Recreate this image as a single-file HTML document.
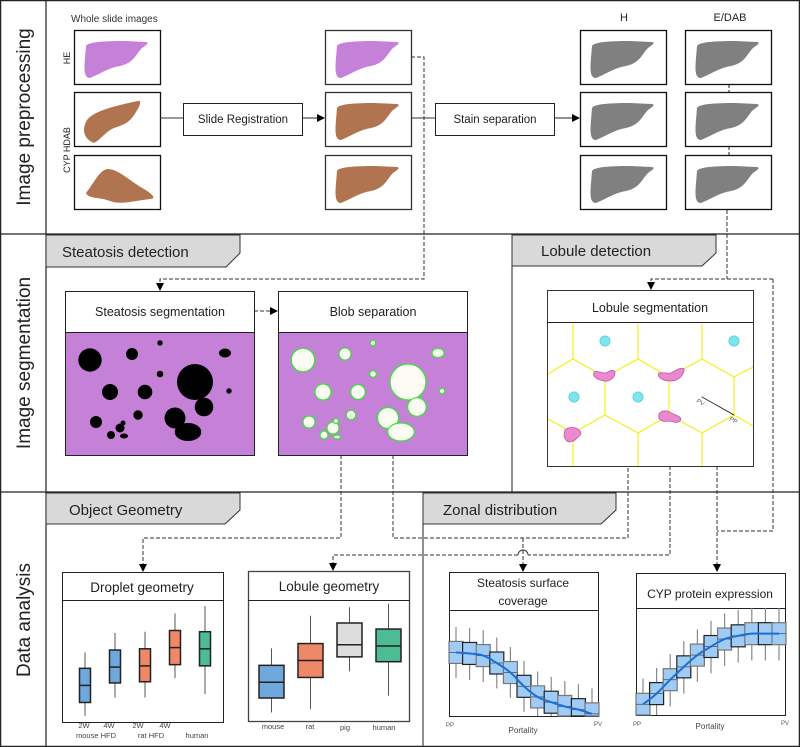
<!DOCTYPE html>
<html><head><meta charset="utf-8"><style>
html,body{margin:0;padding:0;background:#fff;}
svg{display:block;font-family:"Liberation Sans",sans-serif;}
.t{fill:#222;}
</style></head><body>
<svg id="fig" width="800" height="747" viewBox="0 0 800 747" xmlns="http://www.w3.org/2000/svg">
<defs>
<marker id="ah" markerWidth="8" markerHeight="8" refX="7" refY="4" orient="auto" markerUnits="userSpaceOnUse"><path d="M0,0 L8,4 L0,8 Z" fill="#000"/></marker>
<path id="liverA" d="M12,16 C14,12 30,11 50,11 L72,12 C76,13 72,15 68,18 C62,24 60,33 46,36 C34,38 26,44 16,48 C10,48 10,40 11,28 Z"/>
<path id="liverB" d="M12,30 C16,20 40,14 64,9 C68,8 66,14 62,20 C56,30 52,32 40,36 C30,40 22,54 18,50 C10,46 8,38 12,30Z"/>
<path id="liverC" d="M12,38 C20,28 26,14 34,14 C44,14 56,26 70,34 C80,40 82,44 76,44 C60,46 46,50 36,46 C26,42 14,44 12,38Z"/>
</defs>
<!-- frame -->
<rect x="0.5" y="0.5" width="799" height="746" fill="none" stroke="#222" stroke-width="1.5"/>
<line x1="46" y1="0" x2="46" y2="747" stroke="#222" stroke-width="1.2"/>
<line x1="0" y1="234" x2="800" y2="234" stroke="#222" stroke-width="1.2"/>
<line x1="0" y1="492" x2="800" y2="492" stroke="#222" stroke-width="1.2"/>
<line x1="512" y1="234" x2="512" y2="492" stroke="#222" stroke-width="1"/>
<line x1="423" y1="492" x2="423" y2="747" stroke="#222" stroke-width="1"/>
<text class="t" transform="translate(30,117) rotate(-90)" text-anchor="middle" font-size="19">Image preprocessing</text>
<text class="t" transform="translate(30,363) rotate(-90)" text-anchor="middle" font-size="19">Image segmentation</text>
<text class="t" transform="translate(30,620) rotate(-90)" text-anchor="middle" font-size="19">Data analysis</text>

<!-- preprocessing -->
<text x="71" y="22" font-size="10" fill="#333">Whole slide images</text>
<text transform="translate(70,58) rotate(-90)" text-anchor="middle" font-size="9" fill="#222">HE</text>
<text transform="translate(70,150) rotate(-90)" text-anchor="middle" font-size="9" fill="#222">CYP HDAB</text>
<g>
<rect x="74.5" y="30.5" width="86" height="54" fill="#fff" stroke="#111" stroke-width="1.3"/><use href="#liverA" x="74" y="30" fill="#c580d8"/>
<rect x="74.5" y="92.5" width="86" height="54" fill="#fff" stroke="#111" stroke-width="1.3"/><use href="#liverB" x="74" y="92" fill="#b07550"/>
<rect x="74.5" y="155.5" width="86" height="54" fill="#fff" stroke="#111" stroke-width="1.3"/><use href="#liverC" x="74" y="155" fill="#b07550"/>
</g>
<g>
<rect x="325.5" y="30.5" width="86" height="54" fill="#fff" stroke="#333" stroke-width="1.3"/><use href="#liverA" x="325" y="30" fill="#c580d8"/>
<rect x="325.5" y="92.5" width="86" height="54" fill="#fff" stroke="#333" stroke-width="1.3"/><use href="#liverA" x="325" y="92" fill="#b07550"/>
<rect x="325.5" y="155.5" width="86" height="54" fill="#fff" stroke="#333" stroke-width="1.3"/><use href="#liverA" x="325" y="155" fill="#b07550"/>
</g>
<line x1="160" y1="118" x2="183" y2="118" stroke="#333"/>
<rect x="183.5" y="103.5" width="119" height="32" fill="#fff" stroke="#222"/>
<text x="243" y="123" text-anchor="middle" font-size="11.5" class="t">Slide Registration</text>
<line x1="302" y1="118" x2="324" y2="118" stroke="#222" marker-end="url(#ah)"/>
<line x1="411" y1="118" x2="435" y2="118" stroke="#333"/>
<rect x="435.5" y="103.5" width="119" height="32" fill="#fff" stroke="#222"/>
<text x="495" y="123" text-anchor="middle" font-size="11.5" class="t">Stain separation</text>
<line x1="554" y1="118" x2="579" y2="118" stroke="#222" marker-end="url(#ah)"/>
<text x="624" y="21" text-anchor="middle" font-size="11" class="t">H</text>
<text x="730" y="21" text-anchor="middle" font-size="11" class="t">E/DAB</text>
<g>
<rect x="580.5" y="30.5" width="86" height="54" fill="#fff" stroke="#111" stroke-width="1.3"/><use href="#liverA" x="580" y="30" fill="#808080"/>
<rect x="580.5" y="92.5" width="86" height="54" fill="#fff" stroke="#111" stroke-width="1.3"/><use href="#liverA" x="580" y="92" fill="#808080"/>
<rect x="580.5" y="155.5" width="86" height="54" fill="#fff" stroke="#111" stroke-width="1.3"/><use href="#liverA" x="580" y="155" fill="#808080"/>
<rect x="685.5" y="30.5" width="86" height="54" fill="#fff" stroke="#111" stroke-width="1.3"/><use href="#liverA" x="685" y="30" fill="#808080"/>
<rect x="685.5" y="92.5" width="86" height="54" fill="#fff" stroke="#111" stroke-width="1.3"/><use href="#liverA" x="685" y="92" fill="#808080"/>
<rect x="685.5" y="155.5" width="86" height="54" fill="#fff" stroke="#111" stroke-width="1.3"/><use href="#liverA" x="685" y="155" fill="#808080"/>
</g>
<line x1="729" y1="85" x2="729" y2="92" stroke="#222" stroke-dasharray="3,2"/>
<line x1="729" y1="147" x2="729" y2="155" stroke="#222" stroke-dasharray="3,2"/>

<!-- dashed connectors -->
<g fill="none" stroke="#333" stroke-width="1" stroke-dasharray="4,2">
<polyline points="411,57 424,57 424,279 160,279 160,290" marker-end="url(#ah)"/>
<polyline points="254,311 277,311" marker-end="url(#ah)"/>
<polyline points="727,210 727,279"/>
<polyline points="773,279 651,279 651,289" marker-end="url(#ah)"/>
<polyline points="773,279 773,531 717,531"/>
<polyline points="717,466 717,571" marker-end="url(#ah)"/>
<polyline points="341,455 341,538 143,538 143,571" marker-end="url(#ah)"/>
<polyline points="393,455 393,538 628,538 628,466"/>
<polyline points="523,538 523,571" marker-end="url(#ah)"/>
<path d="M670,466 V555 H528 M518,555 H333 V570" marker-end="url(#ah)"/>
<path d="M528,555 A5,5 0 0 0 518,555" stroke-dasharray="none"/>
</g>

<!-- tabs -->
<g><polygon points="46,235 240,235 240,253 226,267 46,267" fill="#d9d9d9" stroke="#333"/><text x="62" y="257" font-size="15" class="t">Steatosis detection</text></g>
<g><polygon points="512,235 716,235 716,253 702,266 512,266" fill="#d9d9d9" stroke="#333"/><text x="541" y="256" font-size="15" class="t">Lobule detection</text></g>
<g><polygon points="46,493 240,493 240,510 225,524 46,524" fill="#d9d9d9" stroke="#333"/><text x="69" y="515" font-size="15" class="t">Object Geometry</text></g>
<g><polygon points="423,493 616,493 616,510 601,524 423,524" fill="#d9d9d9" stroke="#333"/><text x="443" y="515" font-size="15" class="t">Zonal distribution</text></g>

<!-- steatosis segmentation -->
<g>
<rect x="65.5" y="291.5" width="189" height="164" fill="#fff" stroke="#222"/>
<rect x="65.5" y="332.5" width="189" height="123" fill="#c580d8" stroke="#222"/>
<text x="160" y="316" text-anchor="middle" font-size="12.5" class="t">Steatosis segmentation</text>
<g id="blobs" fill="#000">
<circle cx="90" cy="360" r="11.7"/><circle cx="132" cy="354" r="6"/><circle cx="160" cy="343" r="2.7"/><ellipse cx="225" cy="353" rx="6" ry="4.5"/>
<circle cx="160" cy="374" r="3.3"/><circle cx="195" cy="382" r="18"/><circle cx="110" cy="392" r="8"/><circle cx="145" cy="392" r="7.3"/>
<circle cx="229" cy="391" r="2.7"/><circle cx="204" cy="407" r="9.3"/><circle cx="96" cy="422" r="6"/><circle cx="138" cy="415" r="4.7"/>
<circle cx="175" cy="418" r="10.5"/><ellipse cx="188" cy="432" rx="13.3" ry="9"/><circle cx="120" cy="428" r="4.5"/><circle cx="111" cy="435" r="4"/><circle cx="123" cy="423" r="2.5"/><ellipse cx="124" cy="436" rx="4" ry="2.5"/>
</g>
</g>
<g>
<rect x="278.5" y="291.5" width="189" height="164" fill="#fff" stroke="#222"/>
<rect x="278.5" y="332.5" width="189" height="123" fill="#c580d8" stroke="#222"/>
<text x="373" y="316" text-anchor="middle" font-size="12.5" class="t">Blob separation</text>
<g fill="#fcfcf4" stroke="#2ee82e" stroke-width="1.2" transform="translate(213,0)">
<circle cx="90" cy="360" r="11.7"/><circle cx="132" cy="354" r="6"/><circle cx="160" cy="343" r="2.7"/><ellipse cx="225" cy="353" rx="6" ry="4.5"/>
<circle cx="160" cy="374" r="3.3"/><circle cx="195" cy="382" r="18"/><circle cx="110" cy="392" r="8"/><circle cx="145" cy="392" r="7.3"/>
<circle cx="229" cy="391" r="2.7"/><circle cx="204" cy="407" r="9.3"/><circle cx="96" cy="422" r="6"/><circle cx="138" cy="415" r="4.7"/>
<circle cx="175" cy="418" r="10.5"/><ellipse cx="188" cy="432" rx="13.3" ry="9"/><circle cx="120" cy="428" r="6"/><circle cx="111" cy="435" r="4"/><circle cx="123" cy="421" r="2.5"/><ellipse cx="124" cy="437" rx="3.5" ry="2"/>
</g>
</g>

<!-- lobule segmentation -->
<g>
<rect x="547.5" y="290.5" width="206" height="176" fill="#fff" stroke="#333"/>
<line x1="547" y1="322.5" x2="754" y2="322.5" stroke="#222"/>
<text x="650" y="312" text-anchor="middle" font-size="12.5" class="t">Lobule segmentation</text>
<g fill="none" stroke="#f5ee1a" stroke-width="1.2">
<polyline points="548,374 573,359 605,377 638,359 669,377 702,359 734,377 753,367"/>
<path d="M573,324 V359 M638,324 V359 M702,324 V359"/>
<path d="M605,377 V415 M669,377 V415 M734,377 V415"/>
<polyline points="548,419 573,433 605,415 638,433 669,415 702,433 734,415 753,426"/>
<path d="M573,433 V466 M638,433 V466 M702,433 V466"/>
</g>
<g fill="#7de6ee" stroke="#5fd3e0"><circle cx="605" cy="341" r="5"/><circle cx="734" cy="341" r="5"/><circle cx="574" cy="397" r="5"/><circle cx="638" cy="397" r="5"/></g>
<g fill="#e98ad0" stroke="#c2509f" stroke-width="0.8">
<path d="M594,372 C598,370 603,374 606,373 C610,371 614,368 615,373 C614,378 610,382 604,381 C600,380 592,378 594,372Z"/>
<path d="M659,373 C664,372 668,374 671,373 C676,370 685,365 684,371 C682,378 676,381 670,381 C665,381 656,378 659,373Z"/>
<path d="M659,414 C662,410 668,410 671,413 C676,415 683,417 680,421 C676,424 672,421 668,421 C664,422 657,421 659,414Z"/>
<path d="M565,430 C568,427 576,426 580,431 C583,434 578,437 575,440 C572,442 568,443 566,440 C563,437 564,433 565,430Z"/>
</g>
<line x1="701.5" y1="396.7" x2="734" y2="415" stroke="#111" stroke-width="0.8"/>
<text transform="translate(696,402) rotate(30)" font-size="6" fill="#555">PV</text>
<text transform="translate(729,420) rotate(30)" font-size="6" fill="#555">PP</text>
</g>

<!-- chart boxes -->
<g>
<rect x="62.5" y="572.5" width="161" height="150" fill="#fff" stroke="#222"/>
<line x1="62" y1="600.5" x2="224" y2="600.5" stroke="#222"/>
<text x="142" y="592" text-anchor="middle" font-size="13.5" class="t">Droplet geometry</text>
<g id="dropletMarks"></g>
<g font-size="7.5" fill="#444" text-anchor="middle"><text x="84" y="728">2W</text><text x="109" y="728">4W</text><text x="138" y="728">2W</text><text x="165" y="728">4W</text>
<text x="96" y="738">mouse HFD</text><text x="151" y="738">rat HFD</text><text x="197" y="738">human</text></g>
</g>
<g>
<rect x="248.5" y="571.5" width="161" height="150" fill="#fff" stroke="#444" stroke-width="1.3"/>
<line x1="248" y1="600.5" x2="410" y2="600.5" stroke="#222"/>
<text x="329" y="591" text-anchor="middle" font-size="13.5" class="t">Lobule geometry</text>
<g id="lobuleMarks"></g>
<g font-size="7.5" fill="#444" text-anchor="middle"><text x="273" y="729">mouse</text><text x="310" y="729">rat</text><text x="345" y="730">pig</text><text x="384" y="730">human</text></g>
</g>
<g>
<rect x="449.5" y="572.5" width="149" height="144" fill="#fff" stroke="#222"/>
<line x1="449" y1="610.5" x2="599" y2="610.5" stroke="#222"/>
<text x="523" y="587" text-anchor="middle" font-size="12" class="t">Steatosis surface</text>
<text x="523" y="605" text-anchor="middle" font-size="12" class="t">coverage</text>
<g id="steatMarks"></g>
<g font-size="6" fill="#555"><text x="446" y="727">PP</text><text x="594" y="726">PV</text></g>
<text x="523" y="733" text-anchor="middle" font-size="8" fill="#444">Portality</text>
</g>
<g>
<rect x="636.5" y="573.5" width="149" height="142" fill="#fff" stroke="#222"/>
<line x1="636" y1="608.5" x2="786" y2="608.5" stroke="#222"/>
<text x="710" y="598" text-anchor="middle" font-size="12" class="t">CYP protein expression</text>
<g id="cypMarks"></g>
<g font-size="6" fill="#555"><text x="633" y="726">PP</text><text x="781" y="725">PV</text></g>
<text x="710" y="729" text-anchor="middle" font-size="8" fill="#444">Portality</text>
</g>
</svg>
<script>
// Droplet geometry
const dropletCats = ["mouse 2W","mouse 4W","rat 2W","rat 4W","human"];
const dropletLo = [5,20,20,36,23];
const dropletQ1 = [16,32,33,47,46];
const dropletMed = [30,45,46,61,60];
const dropletQ3 = [44,59,60,75,74];
const dropletHi = [57,73,74,89,95];
const dropletColors = ["#6fa8dc","#6fa8dc","#ee8866","#ee8866","#4dbb94"];
// Lobule geometry
const lobuleCats = ["mouse","rat","pig","human"];
const lobuleLo = [7,10,41,21];
const lobuleQ1 = [19,36,53,49];
const lobuleMed = [32,50,63,62];
const lobuleQ3 = [46,64,81,76];
const lobuleHi = [60,87,94,97];
const lobuleColors = ["#6fa8dc","#ee8866","#dddddd","#4dbb94"];
// Zonal: steatosis coverage (PP -> PV)
const zoneBins = [1,2,3,4,5,6,7,8,9,10,11];
const steatMed = [60,59,57,50,41,28,18,13,9,6,2];
const steatLo = [36,34,32,26,17,4,0,0,0,0,0];
const steatHi = [84,83,81,74,65,52,42,37,33,30,26];
// Zonal: CYP expression
const cypMed = [10,20,33,45,56,64,71,74,76,76,76];
const cypLo = [0,0,8,20,31,39,46,49,51,51,51];
const cypHi = [34,44,57,69,80,88,95,98,100,100,100];
const NS="http://www.w3.org/2000/svg";
function mk(tag,attrs,parent){const e=document.createElementNS(NS,tag);for(const k in attrs)e.setAttribute(k,attrs[k]);parent.appendChild(e);return e;}
function boxChart(gid,cats,lo,q1,med,q3,hi,colors,x0,x1,bottom,height,bw,name){
  const g=document.getElementById(gid);
  const ys=v=>bottom-v*height/100;
  const step=(x1-x0)/cats.length;
  cats.forEach((c,i)=>{
    const cx=x0+step*(i+0.5);
    const grp=mk('g',{},g);
    
    
    mk('line',{x1:cx,x2:cx,y1:ys(lo[i]),y2:ys(hi[i]),stroke:'#555','stroke-width':1},grp);
    mk('rect',{x:cx-bw/2,y:ys(q3[i]),width:bw,height:ys(q1[i])-ys(q3[i]),fill:colors[i],stroke:'#222','stroke-width':1.5},grp);
    mk('line',{x1:cx-bw/2,x2:cx+bw/2,y1:ys(med[i]),y2:ys(med[i]),stroke:'#222','stroke-width':1.5},grp);
  });
}
boxChart('dropletMarks',dropletCats,dropletLo,dropletQ1,dropletMed,dropletQ3,dropletHi,dropletColors,70,220,722,122,11,'droplet');
boxChart('lobuleMarks',lobuleCats,lobuleLo,lobuleQ1,lobuleMed,lobuleQ3,lobuleHi,lobuleColors,252,408,721,121,25,'lobule');
function zonal(gid,med,lo,hi,x0,x1,bottom,height,name){
  const g=document.getElementById(gid);
  const ys=v=>Math.min(bottom,bottom-v*height/100);
  const bw=14,step=(x1-x0-bw)/(zoneBins.length-1),half=11;
  const pts=[];
  zoneBins.forEach((b,i)=>{
    const cx=x0+bw/2+step*i;
    const grp=mk('g',{},g);
    
    
    mk('line',{x1:cx,x2:cx,y1:ys(lo[i]),y2:ys(hi[i]),stroke:'#888','stroke-width':1.2},grp);
    const yt=ys(med[i])-half, yb=Math.min(bottom,ys(med[i])+half);
    mk('rect',{x:cx-bw/2,y:yt,width:bw,height:yb-yt,fill:'#9fcbf5',stroke:i%2?'#222':'#777','stroke-width':1.2},grp);
    mk('line',{x1:cx-bw/2,x2:cx+bw/2,y1:ys(med[i]),y2:ys(med[i]),stroke:'#555','stroke-width':0.8},grp);
    pts.push([cx,ys(med[i])]);
  });
  let d='M'+pts[0][0]+','+pts[0][1];
  for(let i=0;i<pts.length-1;i++){
    const p0=pts[Math.max(0,i-1)],p1=pts[i],p2=pts[i+1],p3=pts[Math.min(pts.length-1,i+2)];
    d+=' C'+(p1[0]+(p2[0]-p0[0])/6)+','+(p1[1]+(p2[1]-p0[1])/6)+' '+(p2[0]-(p3[0]-p1[0])/6)+','+(p2[1]-(p3[1]-p1[1])/6)+' '+p2[0]+','+p2[1];
  }
  const c=mk('path',{d:d,fill:'none',stroke:'#1a6fdc','stroke-width':2},g);
  
  
}
zonal('steatMarks',steatMed,steatLo,steatHi,449,599,716,106,'steatosis');
zonal('cypMarks',cypMed,cypLo,cypHi,636,786,715,107,'cyp');
</script>
</body></html>
